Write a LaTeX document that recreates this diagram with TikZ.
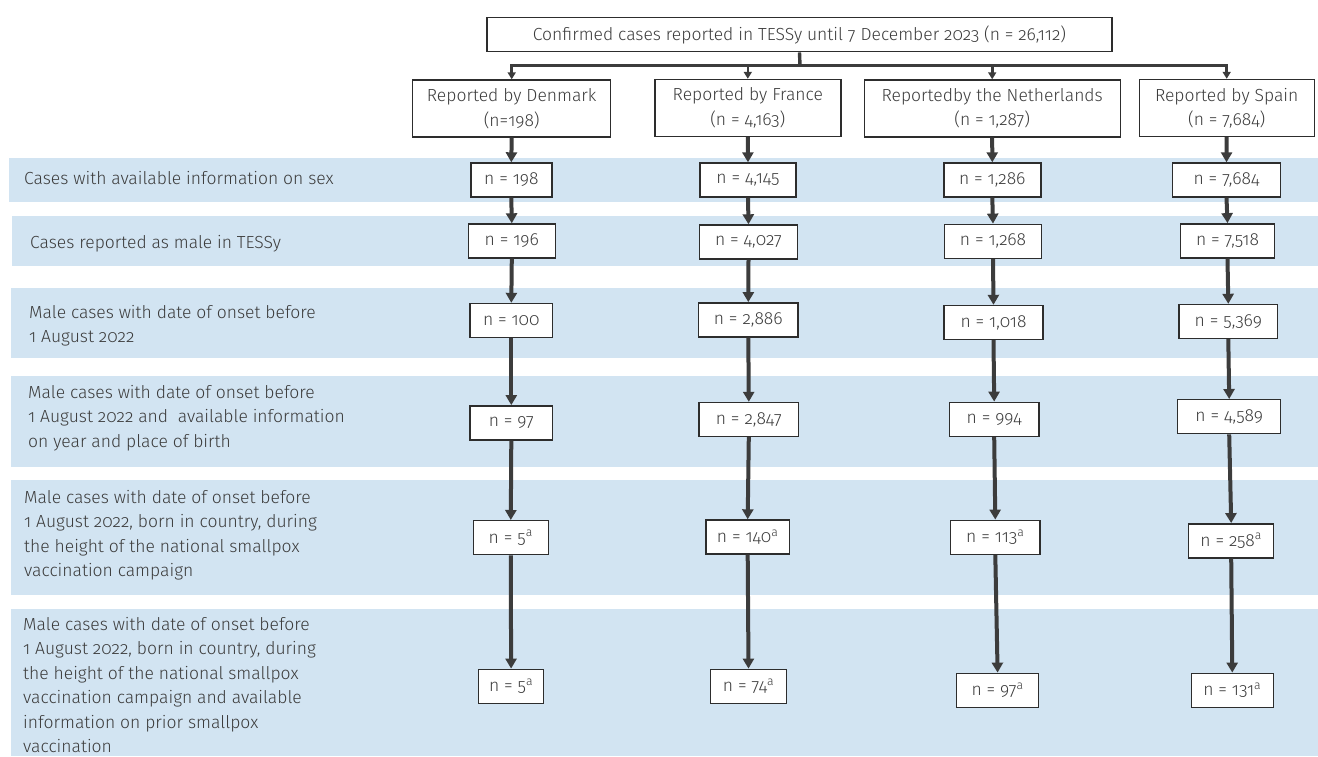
\documentclass[tikz,border=0pt]{standalone}
\usepackage{fontspec}
\setmainfont{Fira Sans Light}[Numbers=OldStyle]
\usetikzlibrary{arrows.meta}
\definecolor{bandc}{RGB}{210,228,242}
\definecolor{ink}{RGB}{60,60,60}
\definecolor{boxc}{RGB}{45,45,45}
\definecolor{arr}{RGB}{60,60,60}
\begin{document}
\begin{tikzpicture}[x=1pt,y=-1pt,
  every node/.style={text=ink, font=\fontsize{17.5}{24.5}\selectfont},
  box/.style={draw=boxc, line width=1.4pt, fill=white, inner sep=0pt, minimum height=34pt, align=center},
  cbox/.style={box, minimum height=57pt},
  lab/.style={anchor=west, align=left, inner sep=0pt},
  flow/.style={draw=arr, line width=4pt, -{Triangle[width=11pt,length=10pt]}},
  tick/.style={draw=arr, line width=2.6pt, -{Triangle[width=8pt,length=7pt]}},
  trunk/.style={draw=arr, line width=3.4pt},
  hline/.style={draw=arr, line width=2.8pt, line cap=rect}]
\useasboundingbox (0,0) rectangle (1318,756);
% bands
\fill[bandc] (9,157.5) rectangle (1318,202);
\fill[bandc] (12,216) rectangle (1318,266);
\fill[bandc] (11,288) rectangle (1318,358);
\fill[bandc] (11,376) rectangle (1318,467);
\fill[bandc] (11,480) rectangle (1318,595);
\fill[bandc] (11,609) rectangle (1318,756);
% row labels
\node[lab] (l1) at (24,178) {Cases with available information on sex};
\node[lab] (l2) at (30,244) {Cases reported as male in TESSy};
\node[lab] (l3) at (29,325.5) {Male cases with date of onset before\\1 August 2022};
\node[lab] (l4) at (28,418) {Male cases with date of onset before\\1 August 2022 and\ \ available information\\on year and place of birth};
\node[lab] (l5) at (24,535) {Male cases with date of onset before\\1 August 2022, born in country, during\\the height of the national smallpox\\vaccination campaign};
\node[lab] (l6) at (23,685) {Male cases with date of onset before\\1 August 2022, born in country, during\\the height of the national smallpox\\vaccination campaign and available\\information on prior smallpox\\vaccination};
% top
\node[box, minimum width=625pt, minimum height=34.5pt] (top) at (799.5,34.5) {Confirmed cases reported in TESSy until 7 December 2023 (n = 26,112)};
% countries
\node[cbox, minimum width=198pt] (dk0) at (511.7,108.5) {Reported by Denmark\\(n=198)};
\node[cbox, minimum width=186pt] (fr0) at (747.8,108) {Reported by France\\(n = 4,163)};
\node[cbox, minimum width=256pt] (nl0) at (992.2,108.5) {Reportedby the Netherlands\\(n = 1,287)};
\node[cbox, minimum width=175pt] (es0) at (1226.7,108) {Reported by Spain\\(n = 7,684)};
% row 1
\node[box, minimum width=81pt] (dk1) at (511.3,180) {n = 198};
\node[box, minimum width=96pt] (fr1) at (748,180) {n = 4,145};
\node[box, minimum width=97pt] (nl1) at (992.3,180) {n = 1,286};
\node[box, minimum width=107.5pt] (es1) at (1226.5,180) {n = 7,684};
% row 2
\node[box, minimum width=87pt] (dk2) at (511.8,241) {n = 196};
\node[box, minimum width=97.6pt] (fr2) at (748.5,242) {n = 4,027};
\node[box, minimum width=97.4pt] (nl2) at (993,241.3) {n = 1,268};
\node[box, minimum width=94.4pt] (es2) at (1227.5,240.8) {n = 7,518};
% row 3
\node[box, minimum width=82.7pt] (dk3) at (511.3,320.5) {n = 100};
\node[box, minimum width=99.3pt] (fr3) at (748.3,319.8) {n = 2,886};
\node[box, minimum width=99pt] (nl3) at (993.5,322.5) {n = 1,018};
\node[box, minimum width=98.7pt] (es3) at (1228.3,321.5) {n = 5,369};
% row 4
\node[box, minimum width=82.7pt] (dk4) at (511.3,422.8) {n = 97};
\node[box, minimum width=99.7pt] (fr4) at (748.8,419.5) {n = 2,847};
\node[box, minimum width=89.7pt] (nl4) at (994.2,419.3) {n = 994};
\node[box, minimum width=103pt] (es4) at (1229.2,416.7) {n = 4,589};
% row 5
\node[box, minimum width=75pt] (dk5) at (510.8,537.7) {n = 5\textsuperscript{a}};
\node[box, minimum width=83.3pt] (fr5) at (747.7,537) {n = 140\textsuperscript{a}};
\node[box, minimum width=89.3pt] (nl5) at (995.3,537.3) {n = 113\textsuperscript{a}};
\node[box, minimum width=85pt] (es5) at (1231.2,540.8) {n = 258\textsuperscript{a}};
% row 6
\node[box, minimum width=65pt] (dk6) at (511.1,686.3) {n = 5\textsuperscript{a}};
\node[box, minimum width=76.2pt] (fr6) at (748.5,686.3) {n = 74\textsuperscript{a}};
\node[box, minimum width=81.7pt] (nl6) at (997.6,690.3) {n = 97\textsuperscript{a}};
\node[box, minimum width=81.8pt] (es6) at (1232.3,690.3) {n = 131\textsuperscript{a}};
% connectors from top
\coordinate (hub) at (800,65.7);
\draw[trunk] (top.south) -- (hub);
\draw[hline] (dk0.north |- hub) -- (es0.north |- hub);
\foreach \c in {dk,fr,nl,es} \draw[tick] (\c0.north |- hub) -- (\c0.north);
% column arrows
\foreach \c in {dk,fr,nl,es}
  \foreach \a/\b in {0/1,1/2,2/3,3/4,4/5,5/6}
    \draw[flow] (\c\a.south) -- (\c\b.north);
\end{tikzpicture}
\end{document}
